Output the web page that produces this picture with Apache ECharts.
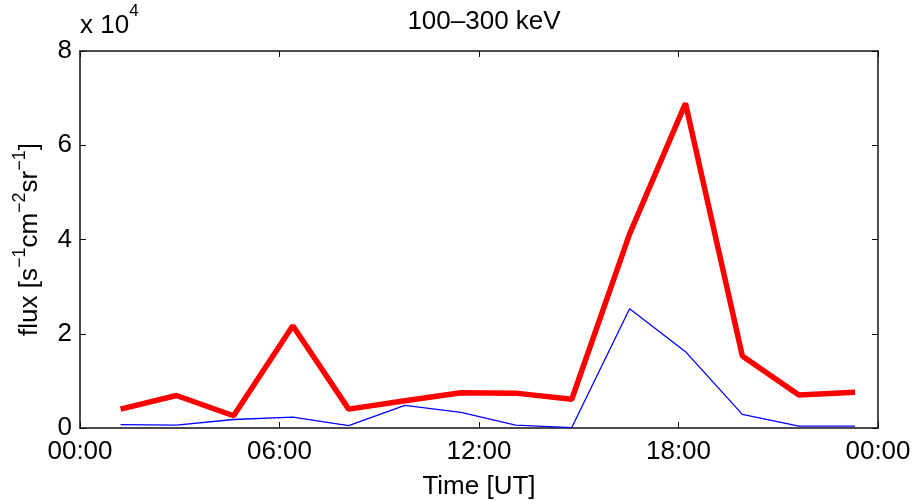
<!DOCTYPE html>
<html>
<head>
<meta charset="utf-8">
<script src="https://cdn.jsdelivr.net/npm/echarts@6/dist/echarts.min.js"></script>
<style>
  html, body { margin: 0; padding: 0; background: #fff; }
  #chart { width: 916px; height: 501px; }
</style>
</head>
<body>
<div id="chart"></div>
<script>
// time of each sample, hours UT
const hours = [1.22, 2.9, 4.62, 6.40, 8.08, 9.77, 11.46, 13.10, 14.79, 16.53, 18.21, 19.92, 21.62, 23.31];
// flux [s^-1 cm^-2 sr^-1]
const fluxRed = [4000, 6900, 2600, 21700, 4000, 5800, 7500, 7400, 6100, 41200, 68900, 15300, 7000, 7600];
const fluxBlue = [700, 600, 1800, 2300, 500, 4800, 3300, 600, 100, 25300, 16200, 2900, 400, 400];
const yTicks = [0, 2, 4, 6, 8]; // x 10^4
const xTickLabels = ["00:00", "06:00", "12:00", "18:00", "00:00"];

const font = "Liberation Sans, Arial, Helvetica, sans-serif";
const fs = 26;
const axisColor = "#111";

const chart = echarts.init(document.getElementById("chart"));

const xBase = {
  type: "value",
  min: 0,
  max: 24,
  interval: 6,
  axisLine: { show: true, onZero: false, lineStyle: { color: axisColor, width: 1.5 } },
  axisTick: { show: true, inside: true, length: 6, lineStyle: { color: axisColor, width: 1 } },
  splitLine: { show: false },
};
const yBase = {
  type: "value",
  min: 0,
  max: yTicks[yTicks.length - 1] * 1e4,
  interval: 2e4,
  axisLine: { show: true, onZero: false, lineStyle: { color: axisColor, width: 1.5 } },
  axisTick: { show: true, inside: true, length: 6, lineStyle: { color: axisColor, width: 1 } },
  splitLine: { show: false },
};

chart.setOption({
  animation: false,
  backgroundColor: "#fff",
  title: {
    text: "100–300 keV",
    left: 479,
    textAlign: "center",
    top: 4,
    textStyle: { fontFamily: font, fontSize: fs, fontWeight: "normal", color: "#000" },
  },
  grid: { left: 80, right: 38, top: 51, bottom: 73, outerBoundsMode: "none" },
  xAxis: [
    Object.assign({}, xBase, {
      position: "bottom",
      name: "Time [UT]",
      nameLocation: "middle",
      nameGap: 46,
      nameTextStyle: { fontFamily: font, fontSize: fs, color: "#000" },
      axisLabel: {
        fontFamily: font,
        fontSize: fs,
        color: "#000",
        margin: 11,
        formatter: (v) => xTickLabels[Math.round(v / 6)],
      },
    }),
    Object.assign({}, xBase, { position: "top", axisLabel: { show: false } }),
  ],
  yAxis: [
    Object.assign({}, yBase, {
      position: "left",
      name: "{n|flux [s}{s|−1}{n|cm}{s|−2}{n|sr}{s|−1}{n|]}",
      nameLocation: "middle",
      nameGap: 37,
      nameRotate: 90,
      nameTextStyle: {
        rich: {
          n: { fontFamily: font, fontSize: fs, color: "#000", lineHeight: 32, verticalAlign: "bottom" },
          s: { fontFamily: font, fontSize: 18, color: "#000", lineHeight: 32, verticalAlign: "top" },
        },
      },
      axisLabel: {
        fontFamily: font,
        fontSize: fs,
        color: "#000",
        margin: 8,
        formatter: (v) => String(v / 1e4),
      },
    }),
    Object.assign({}, yBase, { position: "right", axisLabel: { show: false } }),
  ],
  graphic: [
    {
      type: "text",
      left: 80,
      top: 3,
      style: {
        text: "{n|x 10}{s|4}",
        rich: {
          n: { fontFamily: font, fontSize: fs, fill: "#000", lineHeight: 36, verticalAlign: "bottom" },
          s: { fontFamily: font, fontSize: 17, fill: "#000", lineHeight: 36, verticalAlign: "top" },
        },
      },
    },
  ],
  series: [
    {
      name: "blue",
      type: "line",
      data: hours.map((h, i) => [h, fluxBlue[i]]),
      showSymbol: false,
      lineStyle: { color: "#0000ff", width: 1.3 },
      z: 2,
    },
    {
      name: "red",
      type: "line",
      data: hours.map((h, i) => [h, fluxRed[i]]),
      showSymbol: false,
      lineStyle: { color: "#ff0000", width: 5.5 },
      z: 3,
    },
  ],
});
</script>
</body>
</html>
